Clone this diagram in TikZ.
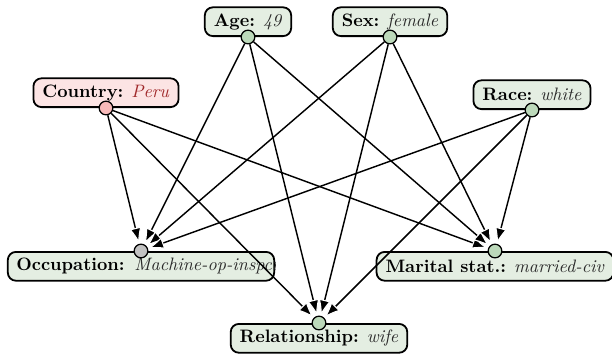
\documentclass[tikz,border=0pt]{standalone}
\usepackage{amsmath}
\usepackage{tikz}
\usepackage{xcolor}
\usetikzlibrary{arrows.meta}

\definecolor{boxgreen}{HTML}{E4EEE2}
\definecolor{dotgreen}{HTML}{BCD9BA}
\definecolor{boxpink}{HTML}{FCE4E4}
\definecolor{dotpink}{HTML}{F8BABA}
\definecolor{dotgray}{HTML}{C2C2C2}
\definecolor{perured}{HTML}{A0282A}
\definecolor{valgray}{HTML}{2A2A2A}

\begin{document}
\begin{tikzpicture}[x=0.5556pt,y=-0.5556pt,
  featbox/.style={draw,line width=1pt,rounded corners=4.5pt,fill=boxgreen,
    minimum height=16pt,inner xsep=5pt,inner ysep=2pt},
  featdot/.style={circle,draw,line width=0.7pt,fill=dotgreen,inner sep=0pt,
    minimum size=7.6pt},
  edge/.style={line width=0.8pt,
    -{Latex[length=9pt,width=7pt,color=white,fill=black,line width=0.6pt]}}]
\useasboundingbox (0,0) rectangle (612,353);

% parent features
\node[featbox,anchor=south] (age) at (248,37) {\textbf{Age:} \textcolor{valgray}{\textit{49}}};
\node[featbox,anchor=south] (sex) at (390,37) {\textbf{Sex:} \textcolor{valgray}{\textit{female}}};
\node[featbox,anchor=south,fill=boxpink] (country) at (106,108) {\textbf{Country:} \textcolor{perured}{\textit{Peru}}};
\node[featbox,anchor=south] (race) at (532,110) {\textbf{Race:} \textcolor{valgray}{\textit{white}}};

% child features
\node[featbox,anchor=north,minimum width=148pt] (occ) at (141,251) {};
\begin{scope}
\clip (occ.south west) rectangle (occ.north east);
\node[anchor=west,inner xsep=5pt] (occtext) at (occ.west) {\textbf{Occupation:}\hspace{0.1em} \textcolor{valgray}{\textit{Machine-op-inspct}}};
\end{scope}
\node[featbox,anchor=north] (mar) at (495,251) {\textbf{Marital stat.:} \textcolor{valgray}{\textit{married-civ}}};
\node[featbox,anchor=north] (rel) at (319,323) {\textbf{Relationship:} \textcolor{valgray}{\textit{wife}}};

% dots
\node[featdot] (agedot) at (age.south) {};
\node[featdot] (sexdot) at (sex.south) {};
\node[featdot,fill=dotpink] (countrydot) at (country.south) {};
\node[featdot] (racedot) at (race.south) {};
\node[featdot,fill=dotgray] (occdot) at (occ.north) {};
\node[featdot] (mardot) at (mar.north) {};
\node[featdot] (reldot) at (rel.north) {};

% edges
\foreach \src in {countrydot,agedot,sexdot,racedot}
  \foreach \dst in {occdot,reldot,mardot}
    \draw[edge] (\src) -- (\dst);
\end{tikzpicture}
\end{document}
